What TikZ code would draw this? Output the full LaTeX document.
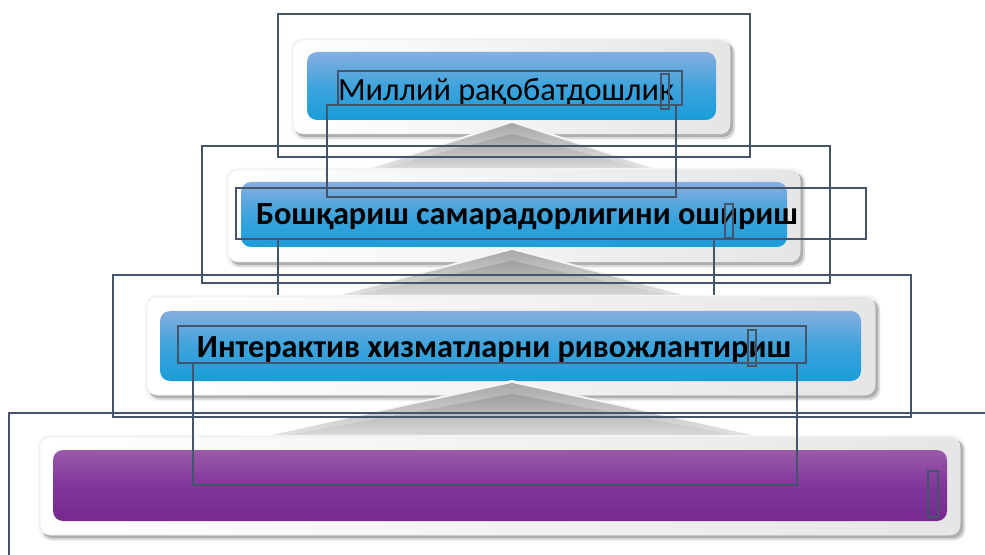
\documentclass[tikz,border=0pt]{standalone}
\usepackage{fontspec}
\setmainfont{Carlito}
\definecolor{outl}{HTML}{44546A}
\definecolor{bluetop}{HTML}{86AEE0}
\definecolor{bluemid}{HTML}{3FA3DC}
\definecolor{bluebot}{HTML}{1A9DD9}
\definecolor{purtop}{HTML}{9A5AA8}
\definecolor{purmid}{HTML}{80379A}
\definecolor{purbot}{HTML}{76298F}
\tikzset{
  outbox/.style={draw=outl, line width=1.2bp},
  shadowbox/.style={fill=black!45, rounded corners=10bp},
  glowbox/.style={fill=black!4, rounded corners=12bp},
  panelbox/.style={left color=white, right color=black!10, rounded corners=10bp, draw=black!7, line width=0.5bp},
  bluebox/.style={top color=bluetop, bottom color=bluebot, middle color=bluemid, rounded corners=10bp},
  purplebox/.style={top color=purtop, bottom color=purbot, middle color=purmid, rounded corners=10bp},
  lbl/.style={inner sep=0pt, anchor=center, text=black},
}
\newcommand\uparr[4]{% apex x, apex y, base y, half width
  \fill[black!4] (#1,#2-3) -- (#1+#4+8,#3+2) -- (#1-#4-8,#3+2) -- cycle;
  \shade[top color=black!34, bottom color=black!9] (#1,#2) -- (#1+#4,#3) -- (#1-#4,#3) -- cycle;
  \shade[top color=black!44, bottom color=black!14, opacity=0.6] (#1,#2+11) -- (#1+0.95*#4,#3) -- (#1-0.95*#4,#3) -- cycle;
}
\newcommand\panelset[4]{% panel x1 y1 x2 y2
  \fill[glowbox] (#1-2,#2-2) rectangle (#3+5,#4+6);
  \fill[shadowbox, opacity=0.25] (#1+2,#2+3) rectangle (#3+5,#4+5);
  \fill[shadowbox, opacity=0.55] (#1+2,#2+2) rectangle (#3+3,#4+3);
  \shade[panelbox] (#1,#2) rectangle (#3,#4);
}
\begin{document}
\begin{tikzpicture}[x=1bp,y=-1bp]
\useasboundingbox[fill=white] (0,0) rectangle (985,555);

% level 1
\panelset{293}{40}{730}{134}
\shade[bluebox] (307,52) rectangle (716,120);
\node[lbl, font=\fontsize{32.3bp}{36bp}\selectfont] (t1) at (506,92) {Миллий рақобатдошлик};
\uparr{512}{123}{172}{151}

% level 2
\panelset{228}{170}{800}{262}
\shade[bluebox] (241,182) rectangle (787,247);
\node[lbl, font=\fontsize{32.3bp}{34bp}\selectfont\bfseries] (t2) at (527,217) {Бошқариш самарадорлигини ошириш};
\uparr{512}{250}{300}{189}

% level 1 lower outline (over level 2)
\draw[outbox] (327,105) rectangle (676,197);
% level 2 lower outline (partly under level 3)
\draw[outbox] (278,239) rectangle (714,300);

% level 3
\panelset{147}{297}{875}{395}
\shade[bluebox] (160,311) rectangle (861,381);
\node[lbl, font=\fontsize{32.3bp}{34bp}\selectfont\bfseries] (t3) at (494,350) {Интерактив хизматларни ривожлантириш};
\uparr{512}{383}{440}{263}

% level 4
\panelset{40}{437}{960}{535}
\shade[purplebox] (53,450) rectangle (947,521);

% outlines
\draw[outbox] (278,14) rectangle (750,157);
\draw[outbox] (338,71) rectangle (682,105);
\draw[outbox] (661,74) rectangle (669,109);

\draw[outbox] (202,146) rectangle (830,283);
\draw[outbox] (236,188) rectangle (866,239);
\draw[outbox] (725,204) rectangle (733,238);

\draw[outbox] (113,275) rectangle (911,417);
\draw[outbox] (178,326) rectangle (806,363);
\draw[outbox] (748,330) rectangle (756,366);
\draw[outbox] (193,363) rectangle (797,485);

\draw[outbox] (9,560) -- (9,413) -- (990,413);
\draw[outbox] (928,471) rectangle (938,517);
\end{tikzpicture}
\end{document}
